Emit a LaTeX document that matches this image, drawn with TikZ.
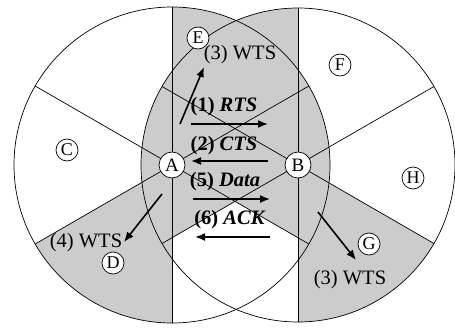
\documentclass[tikz,border=0pt]{standalone}
\usepackage{fontspec}
\setmainfont{Liberation Serif}
\usetikzlibrary{arrows.meta,calc}
\begin{document}
\begin{tikzpicture}[x=1pt,y=1pt,
  zone/.style={fill=black!20},
  rim/.style={line width=0.7pt},
  station/.style={circle,draw,line width=0.7pt,fill=white,inner sep=0pt,minimum size=26pt,font=\fontsize{19}{19}\selectfont},
  peer/.style={circle,draw,line width=0.7pt,fill=white,inner sep=0pt,minimum size=22pt,font=\fontsize{18}{18}\selectfont},
  lbl/.style={inner sep=0pt,font=\fontsize{20.5}{21}\selectfont},
  msg/.style={line width=1.6pt,-{Latex[length=10pt,width=8pt]}}]
\useasboundingbox (0,0) rectangle (455,330);
\def\ra{158}
\def\rb{157}
\coordinate (a) at (172,165);
\coordinate (b) at (298,165);
% shaded sectors of both ranges
\fill[zone] (a) -- ++(-30:\ra) arc[start angle=-30,end angle=90,radius=\ra] -- cycle;
\fill[zone] (a) -- ++(210:\ra) arc[start angle=210,end angle=270,radius=\ra] -- cycle;
\fill[zone] (b) -- ++(90:\rb) arc[start angle=90,end angle=210,radius=\rb] -- cycle;
\fill[zone] (b) -- ++(270:\rb) arc[start angle=270,end angle=330,radius=\rb] -- cycle;
% range circles and sector boundaries
\draw[rim] (a) circle[radius=\ra];
\draw[rim] (b) circle[radius=\rb];
\foreach \t in {30,90,150} {
  \draw[rim] ($(a)+(\t:\ra)$) -- ($(a)+(\t+180:\ra)$);
  \draw[rim] ($(b)+(\t:\rb)$) -- ($(b)+(\t+180:\rb)$);
}
% stations
\node[station] (A) at (a) {A};
\node[station] (B) at (b) {B};
\node[peer] (C) at (67,180) {C};
\node[peer] (D) at (113,67) {D};
\node[peer] (E) at (198,292) {E};
\node[peer] (F) at (340,265) {F};
\node[peer] (G) at (369,86) {G};
\node[peer] (H) at (413,152) {H};
% message labels
\node[lbl] (w1) at (240,275) {(3) WTS};
\node[lbl] (m1) at (224,223) {\textbf{(1) \textit{RTS}}};
\node[lbl] (m2) at (224,184) {\textbf{(2) \textit{CTS}}};
\node[lbl] (m5) at (225,148) {\textbf{(5) \textit{Data}}};
\node[lbl] (m6) at (230,110) {\textbf{(6) \textit{ACK}}};
\node[lbl] (w2) at (86,87) {(4) WTS};
\node[lbl] (w3) at (350,50) {(3) WTS};
% message arrows
\coordinate (r0) at (191,206); \coordinate (r1) at (268,206);
\coordinate (c0) at (268,169); \coordinate (c1) at (191,169);
\coordinate (d0) at (193,131); \coordinate (d1) at (270,131);
\coordinate (k0) at (270,93);  \coordinate (k1) at (195,93);
\coordinate (e0) at (180,206); \coordinate (e1) at (204,263);
\coordinate (f0) at (162,136); \coordinate (f1) at (124,88);
\coordinate (g0) at (318,118); \coordinate (g1) at (356,70);
\draw[msg] (r0) -- (r1);
\draw[msg] (c0) -- (c1);
\draw[msg] (d0) -- (d1);
\draw[msg] (k0) -- (k1);
\draw[msg] (e0) -- (e1);
\draw[msg] (f0) -- (f1);
\draw[msg] (g0) -- (g1);
\end{tikzpicture}
\end{document}
